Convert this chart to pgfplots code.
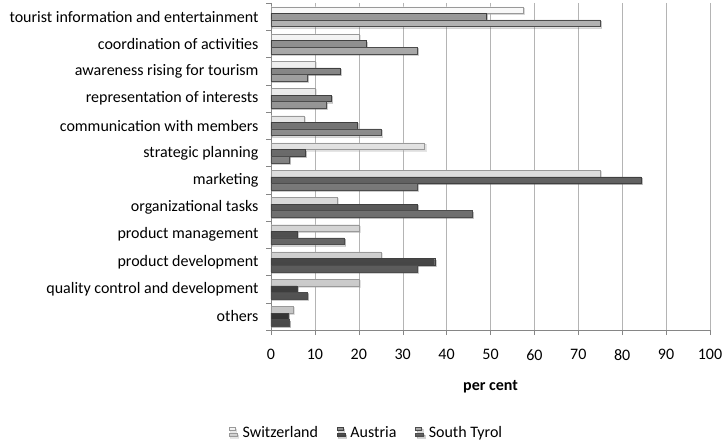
\documentclass[border=0pt]{standalone}
\usepackage{fontspec}
\setmainfont{Carlito}
\usepackage{pgfplots}
\usetikzlibrary{shadows}
\pgfplotsset{compat=1.18}
\definecolor{axisgray}{HTML}{868686}
\definecolor{gridgray}{HTML}{B4B4B4}
\begin{document}
\begin{tikzpicture}[font=\fontsize{16}{19.2}\selectfont]
\path[use as bounding box] (0,0) rectangle (726pt,441pt);
\begin{axis}[
  at={(271pt,111pt)}, anchor=south west,
  scale only axis, width=439pt, height=327pt,
  xmin=0, xmax=100, xtick={0,10,...,100},
  ymin=-0.5, ymax=11.5, y dir=reverse,
  ytick={-0.5,0.5,...,11.5},
  yticklabels={tourist information and entertainment,coordination of activities,awareness rising for tourism,representation of interests,communication with members,strategic planning,marketing,organizational tasks,product management,product development,quality control and development,others,{}},
  yticklabel style={yshift=-13.6pt, xshift=-4pt},
  xticklabel style={yshift=-11pt},
  /pgf/number format/assume math mode=true,
  tick align=outside, major tick length=5pt,
  tick style={draw=axisgray, thin},
  axis lines*=left, axis line style={draw=axisgray, thin, -},
  xmajorgrids, grid style={draw=gridgray, thin},
  xlabel={\textbf{per cent}},
  xlabel style={at={(axis description cs:0.5,-0.172)}, anchor=center},
  legend columns=3,
  legend style={draw=none, fill=none, at={(axis description cs:0.218,-0.315)}, anchor=center,
    /tikz/every odd column/.append style={column sep=3pt},
    /tikz/every even column/.append style={column sep=17pt}},
  legend image code/.code={\draw[#1] (0pt,-4pt) rectangle (8pt,4pt);},
  xbar, bar width=6.6pt,
  every axis plot/.append style={drop shadow={shadow xshift=1.2pt, shadow yshift=-1.2pt, opacity=0.25}},
]
\addplot[bar shift=6.6pt, draw=gray!80, top color=white!95!gray, middle color=white!80!gray, bottom color=white!55!gray]
  coordinates {(57.5,0) (20,1) (10,2) (10,3) (7.5,4) (35,5) (75,6) (15,7) (20,8) (25,9) (20,10) (5,11)};
\addlegendentry{Switzerland}
\addplot[bar shift=0pt, draw=black!75, top color=black!40, middle color=black!68, bottom color=black!80]
  coordinates {(49.0,0) (21.6,1) (15.7,2) (13.7,3) (19.6,4) (7.8,5) (84.3,6) (33.3,7) (5.9,8) (37.3,9) (5.9,10) (3.9,11)};
\addlegendentry{Austria}
\addplot[bar shift=-6.6pt, draw=black!70, top color=black!30, middle color=black!50, bottom color=black!72]
  coordinates {(75,0) (33.3,1) (8.3,2) (12.5,3) (25,4) (4.2,5) (33.3,6) (45.8,7) (16.7,8) (33.3,9) (8.3,10) (4.2,11)};
\addlegendentry{South Tyrol}
\end{axis}
\end{tikzpicture}
\end{document}
